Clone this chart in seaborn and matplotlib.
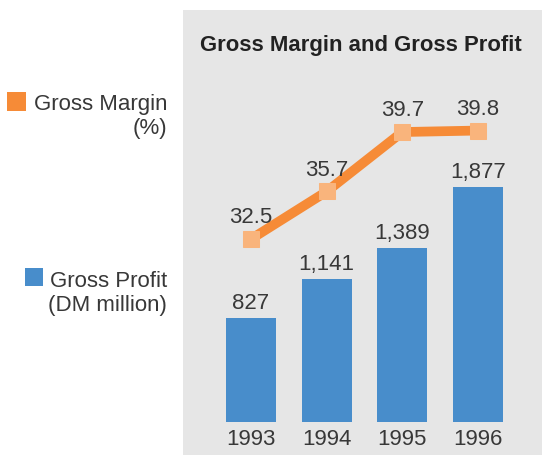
import numpy as np
import pandas as pd
import matplotlib
matplotlib.use("Agg")
import matplotlib.pyplot as plt
from matplotlib.patches import Rectangle
import seaborn as sns

years = ["1993", "1994", "1995", "1996"]
gross_profit = [827, 1141, 1389, 1877]
gross_margin = [32.5, 35.7, 39.7, 39.8]
profit_labels = ["827", "1,141", "1,389", "1,877"]
margin_labels = ["32.5", "35.7", "39.7", "39.8"]

sns.set_style("white")
plt.rcParams["font.family"] = ["Liberation Sans", "DejaVu Sans"]

W, H = 542, 456
fig = plt.figure(figsize=(W / 100, H / 100), dpi=100)
fig.patch.set_facecolor("white")

# grey panel
fig.patches.append(Rectangle((183 / W, 0), 1 - 183 / W, 1 - 11 / H,
                             transform=fig.transFigure, facecolor="#e6e6e6",
                             edgecolor="none", zorder=-10))

left, right = 183 / W, 1.0
bottom, top = (H - 423) / H, (H - 40) / H
ax = fig.add_axes([left, bottom, right - left, top - bottom])
ax.set_facecolor("none")
ax.set_zorder(1)

BLUE = "#488dcb"
ORANGE = "#f68b37"
MARK = "#f9b47c"
TXT = "#383838"

df = pd.DataFrame({"year": years, "profit": gross_profit})
sns.barplot(data=df, x="year", y="profit", color=BLUE, width=0.66,
            saturation=1, ax=ax, zorder=2, edgecolor="none", linewidth=0)

ax.set_xlim(-0.899, 3.846)
ax.set_ylim(0, 3059)
for i, lab in enumerate(profit_labels):
    ax.annotate(lab, (i, gross_profit[i]), xytext=(0, 7.2), textcoords="offset points",
                ha="center", va="baseline", fontsize=16, color=TXT)

ax.set_xlabel("")
ax.set_ylabel("")
ax.set_yticks([])
ax.tick_params(axis="x", length=0, pad=4, labelsize=16, labelcolor=TXT)
for s in ax.spines.values():
    s.set_visible(False)

ax2 = ax.twinx()
ax2.set_facecolor("none")
sns.lineplot(x=np.arange(len(years)), y=gross_margin, ax=ax2, color=ORANGE,
             linewidth=7, marker="s", markersize=11.5, markerfacecolor=MARK,
             markeredgecolor=MARK, zorder=3)
ax2.set_ylim(20.19, 45.96)
ax2.set_xlim(-0.899, 3.846)
ax2.set_yticks([])
for s in ax2.spines.values():
    s.set_visible(False)
for i, lab in enumerate(margin_labels):
    ax2.annotate(lab, (i, gross_margin[i]), xytext=(0, 12.2), textcoords="offset points",
                 ha="center", va="baseline", fontsize=16, color=TXT)

fig.text(361 / W, 1 - 45 / H, "Gross Margin and Gross Profit", ha="center", va="center",
         fontsize=15.9, fontweight="bold", color="#222222")

# legend
fig.patches.append(Rectangle((7 / W, 1 - 112 / H), 19 / W, 19 / H, transform=fig.transFigure,
                             facecolor=ORANGE, edgecolor="none"))
fig.text(167 / W, 1 - 94 / H, "Gross Margin\n(%)", ha="right", va="top",
         multialignment="right", fontsize=16, color=TXT, linespacing=1.18,
         transform=fig.transFigure)
fig.patches.append(Rectangle((25 / W, 1 - 287 / H), 18 / W, 18 / H, transform=fig.transFigure,
                             facecolor=BLUE, edgecolor="none"))
fig.text(167 / W, 1 - 271 / H, "Gross Profit\n(DM million)", ha="right", va="top",
         multialignment="right", fontsize=16, color=TXT, linespacing=1.18,
         transform=fig.transFigure)

fig.savefig("out.png", dpi=100)
